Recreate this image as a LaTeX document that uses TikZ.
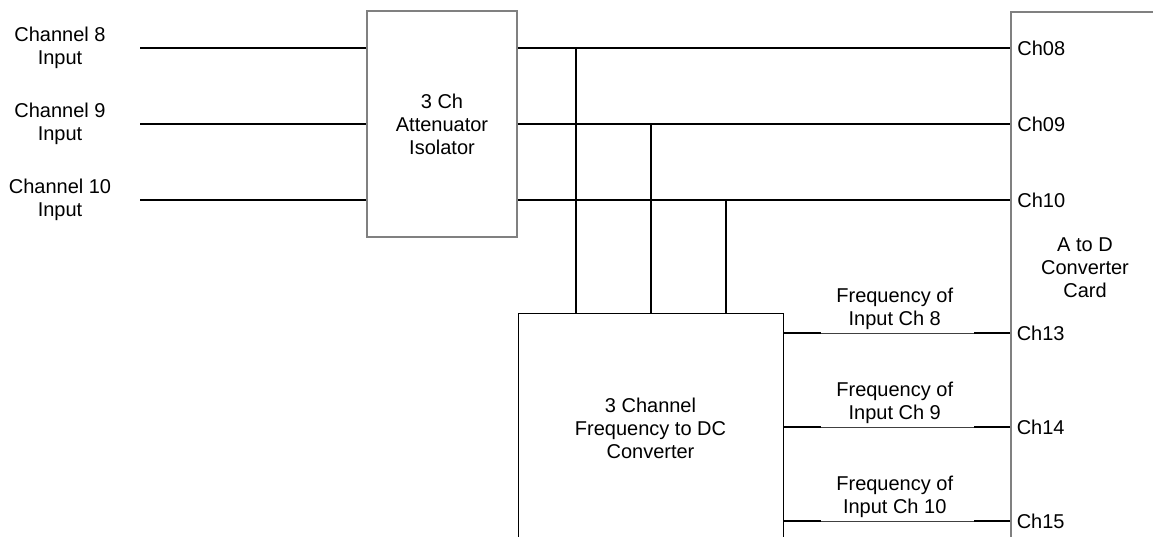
\documentclass[tikz,border=0pt]{standalone}
\usepackage{fontspec}
\setmainfont{Liberation Sans}
\usetikzlibrary{positioning}

\begin{document}
\begin{tikzpicture}[
  x=1pt, y=-1pt,
  font=\fontsize{20}{23}\selectfont,
  wire/.style={line width=2pt},
  thinwire/.style={line width=0.9pt, draw=black!75},
  box/.style={draw=black!50, line width=1.5pt, align=center},
  convbox/.style={draw, line width=0.9pt, align=center},
  lbl/.style={align=center, text=black}
]
  \useasboundingbox (0,0) rectangle (1153,536);
  \clip (0,0) rectangle (1153,536);

  \node[box, minimum width=150pt, minimum height=226pt] (att) at (442,124) {3 Ch\\Attenuator\\Isolator};
  \node[convbox, minimum width=265pt, minimum height=230pt] (conv) at (650.5,428) {3 Channel\\Frequency to DC\\Converter};
  \node[box, anchor=north west, minimum width=300pt, minimum height=600pt] (adc) at (1010,11) {};
  \node[lbl] (adctxt) at (1085,268) {A to D\\Converter\\Card};

  \node[lbl] (in8) at (60,48) {Channel 8\\Input};
  \node[lbl] (in9) at (60,124) {Channel 9\\Input};
  \node[lbl] (in10) at (60,200) {Channel 10\\Input};

  \coordinate (s8) at (140,48);
  \coordinate (s9) at (140,124);
  \coordinate (s10) at (140,200);
  \coordinate (j8) at (576,48);
  \coordinate (j9) at (651,124);
  \coordinate (j10) at (726,200);
  \coordinate (r13) at (1010,333);
  \coordinate (r14) at (1010,427);
  \coordinate (r15) at (1010,521);

  \draw[wire] (s8) -- (att.west |- s8);
  \draw[wire] (s9) -- (att.west |- s9);
  \draw[wire] (s10) -- (att.west |- s10);

  \draw[wire] (att.east |- s8) -- (adc.west |- s8) node[right=3pt, lbl] {Ch08};
  \draw[wire] (att.east |- s9) -- (adc.west |- s9) node[right=3pt, lbl] {Ch09};
  \draw[wire] (att.east |- s10) -- (adc.west |- s10) node[right=3pt, lbl] {Ch10};

  \draw[wire] (j8) -- (j8 |- conv.north);
  \draw[wire] (j9) -- (j9 |- conv.north);
  \draw[wire] (j10) -- (j10 |- conv.north);

  \draw[thinwire] (conv.east |- r13) -- (adc.west |- r13) node[midway, above, lbl, xshift=-2pt] {Frequency of\\Input Ch 8} node[right=3pt, lbl] {Ch13};
  \draw[thinwire] (conv.east |- r14) -- (adc.west |- r14) node[midway, above, lbl, xshift=-2pt] {Frequency of\\Input Ch 9} node[right=3pt, lbl] {Ch14};
  \draw[thinwire] (conv.east |- r15) -- (adc.west |- r15) node[midway, above, lbl, xshift=-2pt] {Frequency of\\Input Ch 10} node[right=3pt, lbl] {Ch15};
  \draw[wire] (conv.east |- r13) -- ++(38,0);
  \draw[wire] (conv.east |- r14) -- ++(38,0);
  \draw[wire] (conv.east |- r15) -- ++(38,0);
  \draw[wire] (adc.west |- r13) -- ++(-36,0);
  \draw[wire] (adc.west |- r14) -- ++(-36,0);
  \draw[wire] (adc.west |- r15) -- ++(-36,0);
\end{tikzpicture}
\end{document}
